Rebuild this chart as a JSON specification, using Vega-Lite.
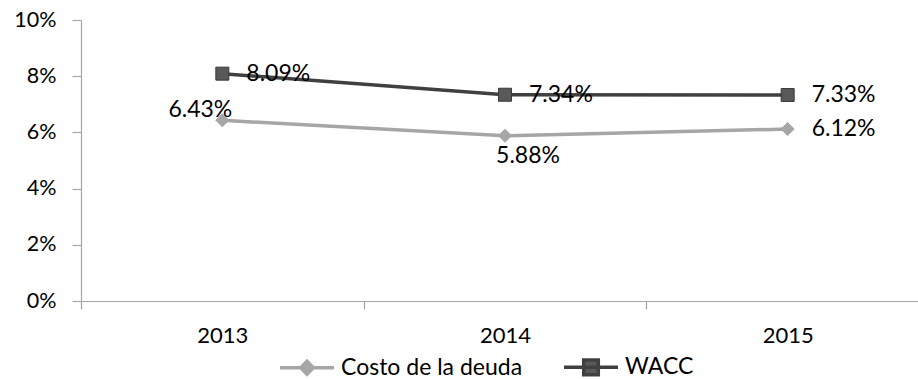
{
  "$schema": "https://vega.github.io/schema/vega-lite/v6.json",
  "autosize": {"type": "none"},
  "width": 837,
  "height": 281,
  "padding": {"left": 81, "top": 20, "right": 0, "bottom": 78},
  "background": "white",
  "config": {
    "view": {"stroke": null},
    "font": "Lato",
    "axis": {
      "labelFont": "Lato",
      "labelColor": "#000000",
      "domainColor": "#A6A6A6",
      "tickColor": "#A6A6A6",
      "domainWidth": 1.2,
      "tickWidth": 1.2,
      "grid": false,
      "title": null
    }
  },
  "data": {
    "values": [
      {"year": "2013", "series": "Costo de la deuda", "value": 0.0643},
      {"year": "2014", "series": "Costo de la deuda", "value": 0.0588},
      {"year": "2015", "series": "Costo de la deuda", "value": 0.0612},
      {"year": "2013", "series": "WACC", "value": 0.0809},
      {"year": "2014", "series": "WACC", "value": 0.0734},
      {"year": "2015", "series": "WACC", "value": 0.0733}
    ]
  },
  "encoding": {
    "x": {
      "field": "year",
      "type": "ordinal",
      "scale": {"type": "band", "domain": ["2013", "2014", "2015"], "range": [0, 848], "paddingInner": 0, "paddingOuter": 0},
      "axis": {"labelAngle": 0, "labelFontSize": 22, "tickBand": "extent", "tickSize": 8, "labelPadding": 16.5}
    },
    "y": {
      "field": "value",
      "type": "quantitative",
      "scale": {"domain": [0, 0.1], "nice": false, "zero": true},
      "axis": {"values": [0, 0.02, 0.04, 0.06, 0.08, 0.1], "format": ".0%", "labelFontSize": 21.5, "tickSize": 9, "labelPadding": 16}
    }
  },
  "layer": [
    {
      "transform": [{"filter": "datum.series === 'Costo de la deuda'"}],
      "mark": {"type": "line", "color": "#A6A6A6", "strokeWidth": 3.5}
    },
    {
      "transform": [{"filter": "datum.series === 'WACC'"}],
      "mark": {"type": "line", "color": "#404040", "strokeWidth": 3.5}
    },
    {
      "transform": [{"filter": "datum.series === 'Costo de la deuda'"}],
      "mark": {"type": "point", "shape": "diamond", "size": 169, "filled": true, "fill": "#A6A6A6", "stroke": "#A6A6A6", "strokeWidth": 1, "opacity": 1}
    },
    {
      "transform": [{"filter": "datum.series === 'WACC'"}],
      "mark": {"type": "point", "shape": "square", "size": 169, "filled": true, "fill": "#595959", "stroke": "#3A3A3A", "strokeWidth": 1, "opacity": 1}
    },
    {
      "transform": [{"filter": "datum.series === 'WACC' || (datum.series === 'Costo de la deuda' && datum.year === '2015')"}],
      "mark": {"type": "text", "align": "left", "baseline": "middle", "dx": 24, "fontSize": 23, "color": "#000000"},
      "encoding": {"text": {"field": "value", "type": "quantitative", "format": ".2%"}}
    },
    {
      "transform": [{"filter": "datum.series === 'Costo de la deuda' && datum.year === '2013'"}],
      "mark": {"type": "text", "align": "center", "baseline": "alphabetic", "dx": -22, "dy": -3.5, "fontSize": 23, "color": "#000000"},
      "encoding": {"text": {"field": "value", "type": "quantitative", "format": ".2%"}}
    },
    {
      "transform": [{"filter": "datum.series === 'Costo de la deuda' && datum.year === '2014'"}],
      "mark": {"type": "text", "align": "center", "baseline": "alphabetic", "dx": 23, "dy": 27, "fontSize": 23, "color": "#000000"},
      "encoding": {"text": {"field": "value", "type": "quantitative", "format": ".2%"}}
    },
    {
      "transform": [{"filter": "false"}],
      "mark": {"type": "point", "filled": true, "opacity": 1, "strokeWidth": 3.5},
      "encoding": {
        "fill": {
          "field": "series",
          "type": "nominal",
          "scale": {"domain": ["Costo de la deuda", "WACC"], "range": ["#A6A6A6", "#595959"]},
          "legend": {
            "title": null,
            "orient": "none",
            "direction": "horizontal",
            "legendX": 197,
            "legendY": 318,
            "padding": 0,
            "symbolSize": 2916,
            "symbolStrokeWidth": 3.5,
            "symbolOpacity": 1,
            "labelFont": "Lato",
            "labelFontSize": 23,
            "labelColor": "#000000",
            "labelOffset": 5,
            "labelLimit": 0,
            "columnPadding": 34
          }
        },
        "stroke": {
          "field": "series",
          "type": "nominal",
          "scale": {"domain": ["Costo de la deuda", "WACC"], "range": ["#A6A6A6", "#404040"]}
        },
        "shape": {
          "field": "series",
          "type": "nominal",
          "scale": {
            "domain": ["Costo de la deuda", "WACC"],
            "range": [
              "M-1,0L1,0M0,-0.24L0.23,0L0,0.24L-0.23,0Z",
              "M-1,0L1,0M-0.27,-0.27L0.27,-0.27L0.27,0.27L-0.27,0.27Z"
            ]
          }
        }
      }
    }
  ]
}
